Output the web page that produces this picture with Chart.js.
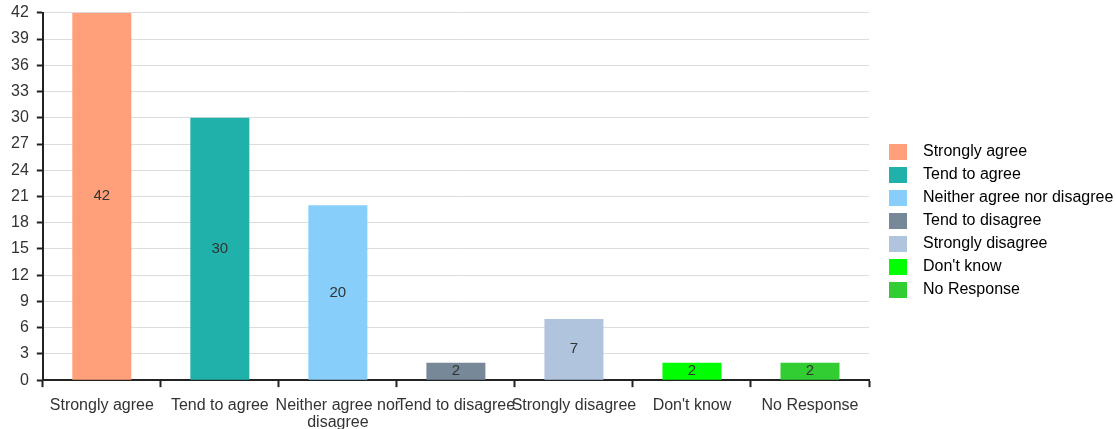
<!DOCTYPE html>
<html>
<head>
<meta charset="utf-8">
<script src="https://cdn.jsdelivr.net/npm/chart.js@4.4.0/dist/chart.umd.min.js"></script>
<style>
  html, body { margin: 0; padding: 0; background: #fff; }
  #wrap { width: 1116px; height: 429px; }
</style>
</head>
<body>
<div id="wrap"><canvas id="grafico"></canvas></div>
<script>
// Datos
const categorias = ["Strongly agree", "Tend to agree", "Neither agree nor disagree", "Tend to disagree", "Strongly disagree", "Don't know", "No Response"];
const etiquetasEje = ["Strongly agree", "Tend to agree", ["Neither agree nor", "disagree"], "Tend to disagree", "Strongly disagree", "Don't know", "No Response"];
const respuestas = [42, 30, 20, 2, 7, 2, 2];
const colores = ["#FFA07A", "#20B2AA", "#87CEFA", "#778899", "#B0C4DE", "#00FF00", "#32CD32"];
const ticksY = [0, 3, 6, 9, 12, 15, 18, 21, 24, 27, 30, 33, 36, 39, 42];

Chart.defaults.font.family = "Arial, 'Liberation Sans', sans-serif";
Chart.defaults.color = "#333";

// Cuadritos de la leyenda como imagen (para dejar aire antes del texto)
function cuadrito(color) {
  const c = document.createElement("canvas");
  c.width = 18;
  c.height = 16;
  const g = c.getContext("2d");
  g.fillStyle = color;
  g.fillRect(0, 0, 18, 16);
  return c;
}
const cuadritos = colores.map(cuadrito);

// ----- Valor en el centro de cada barra -----
const etiquetasBarras = {
  id: "etiquetasBarras",
  afterDatasetsDraw(chart) {
    const ctx = chart.ctx;
    const meta = chart.getDatasetMeta(0);
    ctx.save();
    ctx.font = "15px Arial, 'Liberation Sans', sans-serif";
    ctx.fillStyle = "#333";
    ctx.textAlign = "center";
    ctx.textBaseline = "middle";
    meta.data.forEach((bar, i) => {
      ctx.fillText(String(respuestas[i]), bar.x, (bar.y + bar.base) / 2);
    });
    ctx.restore();
  }
};

// ----- Hueco entre el grafico y la leyenda -----
const huecoLeyenda = {
  id: "huecoLeyenda",
  afterInit(chart) {
    const lg = chart.legend;
    if (!lg || lg._hueco) return;
    lg._hueco = true;
    const fit = lg.fit;
    lg.fit = function () {
      fit.call(this);
      this.width = 247;
    };
    const draw = lg.draw;
    lg.draw = function (area) {
      this.left += 5;
      this.top -= 3;
      this.bottom -= 3;
      draw.call(this, area);
      this.left -= 5;
      this.top += 3;
      this.bottom += 3;
    };
  }
};

new Chart(document.getElementById("grafico"), {
  type: "bar",
  data: {
    labels: etiquetasEje,
    datasets: [{
      label: "Respuestas",
      data: respuestas,
      backgroundColor: colores,
      borderWidth: 0,
      categoryPercentage: 1,
      barPercentage: 0.5
    }]
  },
  options: {
    responsive: true,
    maintainAspectRatio: false,
    animation: false,
    layout: { padding: { top: 6, left: 3, bottom: -12, right: 0 } },
    plugins: {
      legend: {
        position: "right",
        onClick: null,
        labels: {
          usePointStyle: true,
          pointStyleWidth: 34,
          boxHeight: 16,
          padding: 7,
          font: { size: 16 },
          color: "#333",
          generateLabels: () => categorias.map((c, i) => ({
            text: c,
            fillStyle: colores[i],
            strokeStyle: colores[i],
            pointStyle: cuadritos[i],
            lineWidth: 0,
            hidden: false,
            index: i
          }))
        }
      },
      tooltip: { enabled: false }
    },
    scales: {
      x: {
        offset: true,
        grid: {
          offset: true,
          drawOnChartArea: false,
          drawTicks: true,
          tickLength: 7,
          tickColor: "#222",
          tickWidth: 2
        },
        border: { color: "#222", width: 2 },
        ticks: {
          autoSkip: false,
          maxRotation: 0,
          minRotation: 0,
          padding: 9,
          font: { size: 16, lineHeight: 1.12 },
          color: "#333"
        }
      },
      y: {
        min: 0,
        max: 42,
        afterBuildTicks: axis => { axis.ticks = ticksY.map(v => ({ value: v })); },
        grid: {
          color: "#dcdcdc",
          lineWidth: 1,
          tickLength: 6,
          tickColor: "#222",
          tickWidth: 2
        },
        border: { color: "#222", width: 2 },
        ticks: {
          padding: 8,
          font: { size: 16, lineHeight: 0.6 },
          color: "#333"
        }
      }
    }
  },
  plugins: [etiquetasBarras, huecoLeyenda]
});
</script>
</body>
</html>
